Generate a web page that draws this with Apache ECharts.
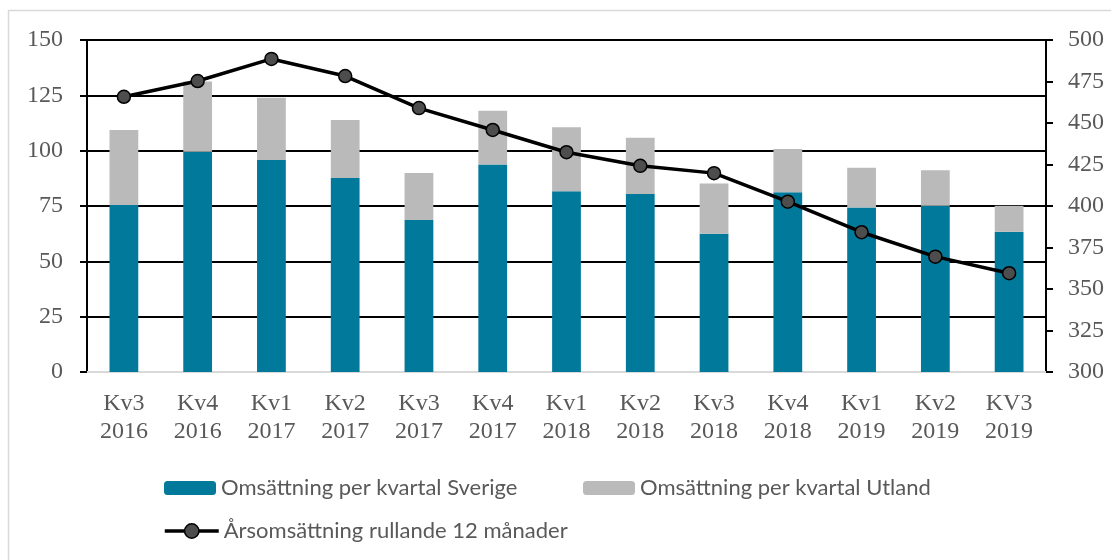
<!DOCTYPE html>
<html><head><meta charset="utf-8">
<script src="https://cdn.jsdelivr.net/npm/echarts@6/dist/echarts.min.js"></script>
<style>html,body{margin:0;padding:0;background:#fff}#c{width:1111px;height:560px}</style>
</head><body><div id="c"></div>
<script>
var categories = ['Kv3\n2016','Kv4\n2016','Kv1\n2017','Kv2\n2017','Kv3\n2017','Kv4\n2017','Kv1\n2018','Kv2\n2018','Kv3\n2018','Kv4\n2018','Kv1\n2019','Kv2\n2019','KV3\n2019'];
var sverige = [75.4, 99.5, 95.8, 87.6, 68.7, 93.8, 81.7, 80.4, 62.5, 81.2, 74.3, 75.1, 63.3];
var utlandTotal = [109.3, 131.2, 123.9, 113.9, 89.9, 118, 110.6, 105.8, 85.2, 100.8, 92.3, 91.1, 75.1];
var utland = utlandTotal.map(function(t,i){return +(t - sverige[i]).toFixed(1);});
var rullande = [465.8, 475.3, 488.6, 478.3, 459, 445.8, 432.4, 424.2, 419.8, 402.6, 384.2, 369.5, 359.5];
var leftTicks = [0, 150, 25];
var rightTicks = [300, 500, 25];

var chart = echarts.init(document.getElementById('c'), null, {renderer:'canvas'});
var axisFont = {fontFamily:'Liberation Serif', fontSize:24, color:'#595959'};
var legendText = {fontFamily:'Lato', fontSize:22, color:'#595959'};
chart.setOption({
  animation:false,
  graphic:[{type:'rect', shape:{x:8.5,y:10.5,width:1120,height:600}, style:{fill:'none', stroke:'#d9d9d9', lineWidth:1.5}, silent:true, z:-10}],
  grid:{left:87, right:65, top:40, bottom:188},
  legend:[
    {data:['Omsättning per kvartal Sverige'], left:159, top:472, itemWidth:52, itemHeight:14, textStyle:legendText, selectedMode:false},
    {data:['Omsättning per kvartal Utland'], left:578, top:472, itemWidth:52, itemHeight:14, textStyle:legendText, selectedMode:false},
    {data:['Årsomsättning rullande 12 månader'], left:158, top:515, itemWidth:54, itemHeight:18, textStyle:legendText, selectedMode:false,
     lineStyle:{width:3.5, color:'#000'}, itemStyle:{color:'#4d4d4d', borderColor:'#000', borderWidth:1.5}}
  ],
  xAxis:{type:'category', data:categories,
    axisLine:{lineStyle:{color:'#d9d9d9', width:2}}, axisTick:{show:false},
    axisLabel:Object.assign({margin:18, lineHeight:28, interval:0}, axisFont)},
  yAxis:[
    {type:'value', min:leftTicks[0], max:leftTicks[1], interval:leftTicks[2],
     axisLine:{show:true, lineStyle:{color:'#000', width:2}},
     axisTick:{show:true, inside:false, length:7, lineStyle:{color:'#000', width:2}},
     splitLine:{show:true, lineStyle:{color:'#000', width:2}},
     axisLabel:Object.assign({margin:24}, axisFont)},
    {type:'value', min:rightTicks[0], max:rightTicks[1], interval:rightTicks[2], position:'right',
     axisLine:{show:true, lineStyle:{color:'#000', width:2}},
     axisTick:{show:true, length:7, lineStyle:{color:'#000', width:2}},
     splitLine:{show:false},
     axisLabel:Object.assign({margin:22}, axisFont)}
  ],
  series:[
    {name:'Omsättning per kvartal Sverige', type:'bar', stack:'a', data:sverige, barWidth:'39%', itemStyle:{color:'#00799A'}},
    {name:'Omsättning per kvartal Utland', type:'bar', stack:'a', data:utland, barWidth:'39%', itemStyle:{color:'#BABABA'}},
    {name:'Årsomsättning rullande 12 månader', type:'line', yAxisIndex:1, data:rullande,
     symbol:'circle', symbolSize:13, lineStyle:{color:'#000', width:3.5},
     itemStyle:{color:'#4d4d4d', borderColor:'#000', borderWidth:1.5}, z:5}
  ]
});
</script></body></html>
